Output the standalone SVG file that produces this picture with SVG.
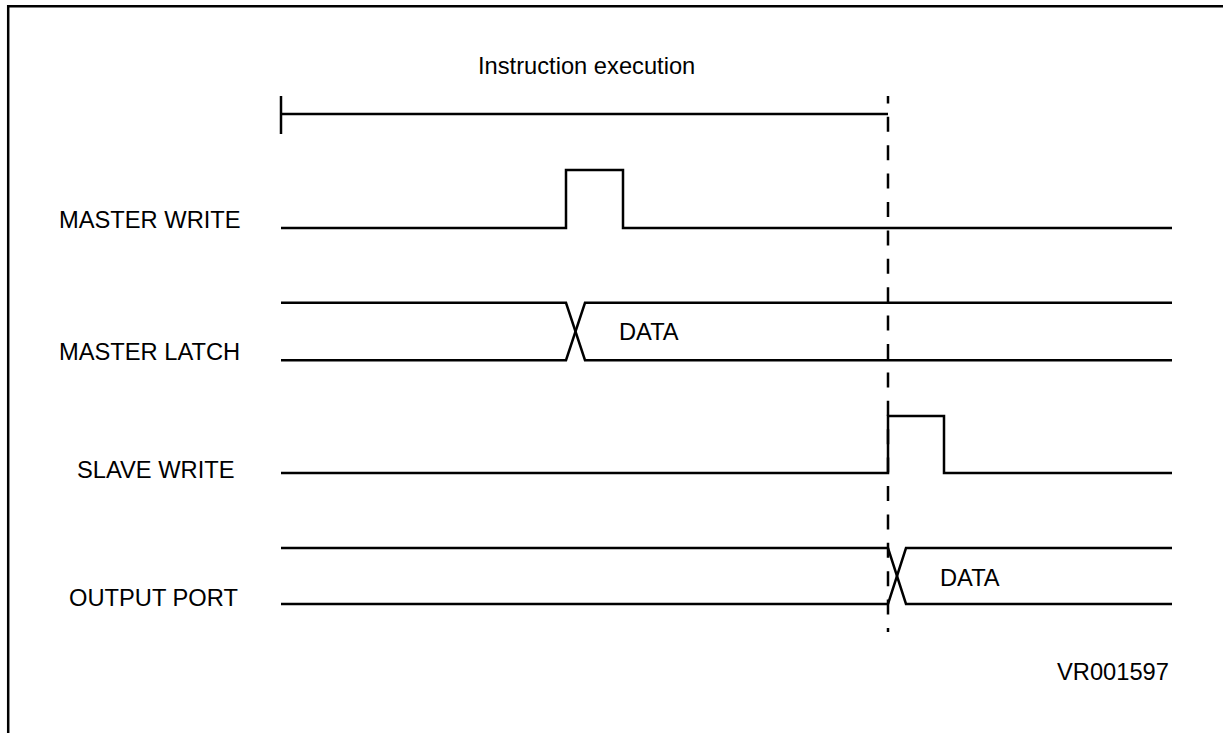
<svg xmlns="http://www.w3.org/2000/svg" width="1223" height="733" viewBox="0 0 1223 733">
<style>
.t{font-family:"Liberation Sans",Arial,sans-serif;font-size:23.7px;fill:#000}
.w{fill:none;stroke:#000;stroke-width:2.5;stroke-linejoin:miter;stroke-linecap:butt}
.d{fill:none;stroke:#000;stroke-width:2.5;stroke-dasharray:15 13.4;stroke-dashoffset:7.6}
</style>
<rect width="1223" height="733" fill="#fff"/>
<g id="frame">
<polyline class="w" points="8.2,733 8.2,6.3 1223,6.3"/>
</g>
<g id="instruction-execution">
<text class="t" x="478" y="74">Instruction execution</text>
<line class="w" x1="281" y1="96" x2="281" y2="134"/>
<line class="w" x1="281" y1="114" x2="888" y2="114"/>
</g>
<g id="master-write">
<text class="t" x="59" y="228">MASTER WRITE</text>
<polyline class="w" points="281,228 566,228 566,170 623,170 623,228 1172,228"/>
</g>
<g id="master-latch">
<text class="t" x="59" y="360">MASTER LATCH</text>
<polyline class="w" points="281,302.8 566,302.8 585,360.2 1172,360.2"/>
<polyline class="w" points="281,360.2 566,360.2 585,302.8 1172,302.8"/>
<text class="t" x="619" y="340">DATA</text>
</g>
<g id="slave-write">
<text class="t" x="77" y="478">SLAVE WRITE</text>
<polyline class="w" points="281,473 888,473 888,416 944,416 944,473 1172,473"/>
</g>
<g id="output-port">
<text class="t" x="69" y="606">OUTPUT PORT</text>
<polyline class="w" points="281,548 888,548 906,604 1172,604"/>
<polyline class="w" points="281,604 888,604 906,548 1172,548"/>
<text class="t" x="940" y="586">DATA</text>
</g>
<g id="connectors">
<line class="d" x1="888" y1="96" x2="888" y2="632"/>
</g>
<text class="t" x="1057" y="680">VR001597</text>
</svg>
